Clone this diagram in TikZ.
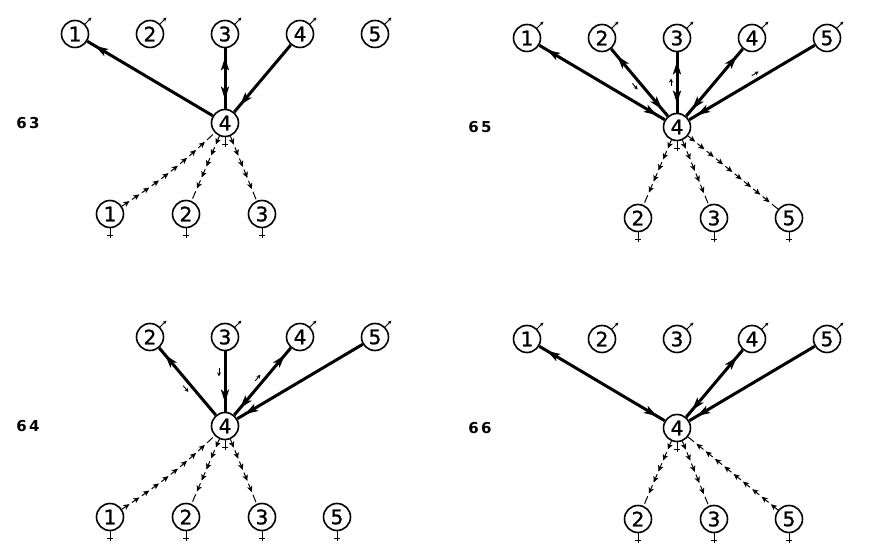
\documentclass[tikz,border=0pt]{standalone}
\usepackage{fontspec}
\newfontfamily\digitfont[FakeBold=1.2]{DejaVu Sans}
\newfontfamily\panelfont[LetterSpace=15]{DejaVu Sans}
\usetikzlibrary{positioning, arrows.meta, decorations.markings}

\tikzset{
  cell/.style={circle, draw, line width=1.6pt, minimum size=27pt, inner sep=0pt,
    font=\digitfont\fontsize{20}{20}\selectfont},
  malemark/.style={line width=1pt, -{Stealth[length=4pt,width=3.5pt]}},
  femalemark/.style={line width=1pt},
  male/.style={cell, append after command={
      (\tikzlastnode.45) edge[malemark] ++(45:9pt)}},
  female/.style={cell, append after command={
      (\tikzlastnode.south) edge[femalemark] ++(0,-10pt)
      ([shift={(-3pt,-7pt)}]\tikzlastnode.south) edge[femalemark] ++(6pt,0)}},
  panel/.style={font=\panelfont\bfseries\fontsize{15}{15}\selectfont},
  mating/.style={line width=3pt},
  totop/.style={postaction={decorate, decoration={markings,
      mark=at position -9pt with {\arrow{Stealth[length=13pt,width=8pt,inset=3pt]}}}}},
  tocen/.style={postaction={decorate, decoration={markings,
      mark=at position 9pt with {\arrowreversed{Stealth[length=13pt,width=8pt,inset=3pt]}}}}},
  sideup/.style={postaction={decorate, decoration={markings,
      mark=at position #1 with {\draw[line width=0.9pt, -{Stealth[length=4pt,width=4pt]}] (-4pt,6pt) -- (4pt,6pt);}}}},
  sidedown/.style={postaction={decorate, decoration={markings,
      mark=at position #1 with {\draw[line width=0.9pt, -{Stealth[length=4pt,width=4pt]}] (4pt,6pt) -- (-4pt,6pt);}}}},
  brood/.style={line width=1pt, dash pattern=on 8pt off 4pt,
      postaction={decorate, decoration={markings,
      mark=between positions 9pt and -2pt step 12pt with {\arrow{Stealth[length=6pt,width=5.5pt,inset=1.5pt]}}}}},
}

\begin{document}
\begin{tikzpicture}[x=1pt, y=1pt, on grid]
\useasboundingbox (0,0) rectangle (878,549);

% 63
\node[female] (c63) at (225,426) {4};
\node[panel, left=197pt of c63] (l63) {63};
\node[male, above=89pt of c63] (m63-3) {3};
\node[male, left=75pt of m63-3] (m63-2) {2};
\node[male, left=75pt of m63-2] (m63-1) {1};
\node[male, right=75pt of m63-3] (m63-4) {4};
\node[male, right=75pt of m63-4] (m63-5) {5};
\node[female, below left=91pt and 39pt of c63] (f63-2) {2};
\node[female, left=76pt of f63-2] (f63-1) {1};
\node[female, right=76pt of f63-2] (f63-3) {3};

\draw[mating, totop] (c63) -- (m63-1);
\draw[mating, totop, tocen] (c63) -- (m63-3);
\draw[mating, tocen] (c63) -- (m63-4);
\draw[brood] (f63-1) to[bend right=5] (c63);
\draw[brood] (c63) -- (f63-2);
\draw[brood] (c63) -- (f63-3);

% 65
\node[female] (c65) at (677,422) {4};
\node[panel, left=197pt of c65] (l65) {65};
\node[male, above=89pt of c65] (m65-3) {3};
\node[male, left=75pt of m65-3] (m65-2) {2};
\node[male, left=75pt of m65-2] (m65-1) {1};
\node[male, right=75pt of m65-3] (m65-4) {4};
\node[male, right=75pt of m65-4] (m65-5) {5};
\node[female, below left=91pt and 39pt of c65] (f65-2) {2};
\node[female, right=76pt of f65-2] (f65-3) {3};
\node[female, right=75pt of f65-3] (f65-5) {5};

\draw[mating, totop, tocen] (c65) -- (m65-1);
\draw[mating, totop, tocen, sidedown=0.5] (c65) -- (m65-2);
\draw[mating, totop, tocen, sideup=0.5] (c65) -- (m65-3);
\draw[mating, totop, tocen] (c65) -- (m65-4);
\draw[mating, tocen, sideup=0.55] (c65) -- (m65-5);
\draw[brood] (c65) -- (f65-2);
\draw[brood] (c65) -- (f65-3);
\draw[brood] (c65) -- (f65-5);

% 64
\node[female] (c64) at (225,123) {4};
\node[panel, left=197pt of c64] (l64) {64};
\node[male, above=89pt of c64] (m64-3) {3};
\node[male, left=75pt of m64-3] (m64-2) {2};
\node[male, right=75pt of m64-3] (m64-4) {4};
\node[male, right=75pt of m64-4] (m64-5) {5};
\node[female, below left=91pt and 39pt of c64] (f64-2) {2};
\node[female, left=76pt of f64-2] (f64-1) {1};
\node[female, right=76pt of f64-2] (f64-3) {3};
\node[female, right=75pt of f64-3] (f64-5) {5};

\draw[mating, totop, sidedown=0.45] (c64) -- (m64-2);
\draw[mating, tocen, sidedown=0.65] (c64) -- (m64-3);
\draw[mating, totop, tocen, sideup=0.5] (c64) -- (m64-4);
\draw[mating, tocen] (c64) -- (m64-5);
\draw[brood] (f64-1) to[bend right=5] (c64);
\draw[brood] (c64) -- (f64-2);
\draw[brood] (c64) -- (f64-3);

% 66
\node[female] (c66) at (677,121) {4};
\node[panel, left=197pt of c66] (l66) {66};
\node[male, above=89pt of c66] (m66-3) {3};
\node[male, left=75pt of m66-3] (m66-2) {2};
\node[male, left=75pt of m66-2] (m66-1) {1};
\node[male, right=75pt of m66-3] (m66-4) {4};
\node[male, right=75pt of m66-4] (m66-5) {5};
\node[female, below left=91pt and 39pt of c66] (f66-2) {2};
\node[female, right=76pt of f66-2] (f66-3) {3};
\node[female, right=75pt of f66-3] (f66-5) {5};

\draw[mating, totop, tocen] (c66) -- (m66-1);
\draw[mating, totop, tocen] (c66) -- (m66-4);
\draw[mating, tocen] (c66) -- (m66-5);
\draw[brood] (c66) -- (f66-2);
\draw[brood] (c66) -- (f66-3);
\draw[brood] (f66-5) -- (c66);
\end{tikzpicture}
\end{document}
